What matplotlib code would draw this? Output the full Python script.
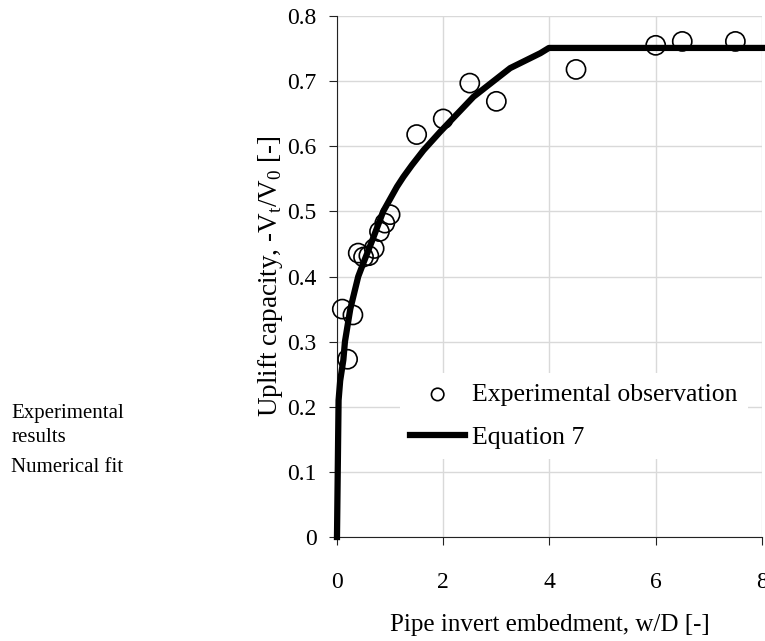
import matplotlib
matplotlib.use("Agg")
from matplotlib import pyplot as plt

# experimental observations
obs_x = [0.1, 0.2, 0.3, 0.4, 0.5, 0.6, 0.7, 0.8, 0.9, 1.0, 1.5, 2.0, 2.5, 3.0, 4.5, 6.0, 6.5, 7.5]
obs_y = [0.35, 0.273, 0.341, 0.436, 0.43, 0.432, 0.443, 0.469, 0.482, 0.495,
         0.618, 0.642, 0.697, 0.669, 0.718, 0.755, 0.761, 0.761]

# Equation 7 curve
eq_x = [0.0, 0.03, 0.06, 0.12, 0.15, 0.25, 0.4, 0.47, 0.69, 0.87, 1.13, 1.25, 1.41, 1.63,
        1.94, 2.57, 3.26, 3.83, 3.99, 8.0]
eq_y = [0.0, 0.21, 0.24, 0.272, 0.3, 0.35, 0.4, 0.415, 0.461, 0.5, 0.538, 0.553, 0.571, 0.594,
        0.622, 0.676, 0.72, 0.743, 0.751, 0.751]

xticks = [0, 2, 4, 6, 8]
yticks = [0, 0.1, 0.2, 0.3, 0.4, 0.5, 0.6, 0.7, 0.8]
ytick_labels = ['0', '0.1', '0.2', '0.3', '0.4', '0.5', '0.6', '0.7', '0.8']

plt.rcParams['font.family'] = ['Liberation Serif', 'DejaVu Serif']
plt.rcParams['mathtext.fontset'] = 'custom'
plt.rcParams['mathtext.rm'] = 'Liberation Serif'

fig = plt.figure(figsize=(7.65, 6.41), dpi=100)
ax = fig.add_axes([0.4405, 0.1622, 0.5555, 0.8128])

ax.scatter(obs_x, obs_y, s=190, facecolors='none', edgecolors='black', linewidths=1.2,
           zorder=3, clip_on=False, label='Experimental observation')
ax.plot(eq_x, eq_y, color='black', lw=4.5, zorder=4, clip_on=False, label='Equation 7')

ax.set_xlim(0, 8)
ax.set_ylim(0, 0.8)
ax.set_xticks(xticks)
ax.set_yticks(yticks)
ax.set_yticklabels(ytick_labels)
ax.grid(True, color='#d9d9d9', lw=1)
ax.set_axisbelow(True)
for s in ['top', 'right']:
    ax.spines[s].set_visible(False)
for s in ['left', 'bottom']:
    ax.spines[s].set_color('#222222')
ax.tick_params(direction='out', length=6, labelsize=17, color='#222222')
ax.tick_params(axis='x', pad=19)
ax.tick_params(axis='y', pad=8.5)

ax.set_xlabel('Pipe invert embedment, w/D [-]', fontsize=18, labelpad=15)
ax.set_ylabel(r'Uplift capacity, -V$_\mathregular{t}$/V$_\mathregular{0}$ [-]', fontsize=19.5, labelpad=2)

leg = ax.legend(loc='upper left', bbox_to_anchor=(0.148, 0.315), fontsize=18.5, frameon=True,
                facecolor='white', edgecolor='none', framealpha=1, fancybox=False,
                markerscale=0.65, handlelength=2.14, handletextpad=0.26, borderaxespad=0,
                borderpad=0.4, labelspacing=0.78)

fig.text(0.015, 0.336, 'Experimental\nresults', fontsize=15, va='center', ha='left', linespacing=1.35)
fig.text(0.015, 0.270, 'Numerical fit', fontsize=15, va='center', ha='left')

fig.savefig('out.png', dpi=100)
